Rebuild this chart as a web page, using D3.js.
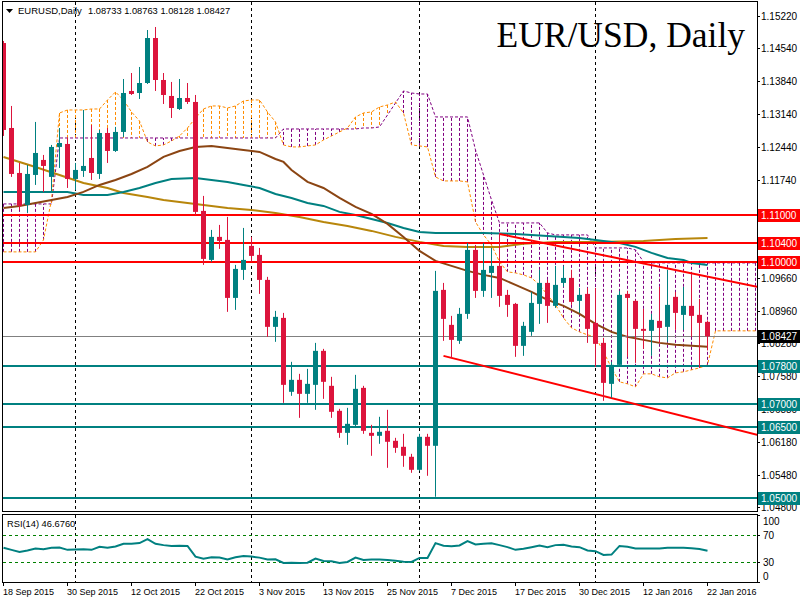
<!DOCTYPE html>
<html><head><meta charset="utf-8">
<script src="https://cdn.jsdelivr.net/npm/d3@7"></script>
<style>body{margin:0;background:#fff;} svg{display:block;}</style>
</head><body><svg id="c" width="800" height="600"></svg>
<script>
const headerSymbol = "EURUSD,Daily";
const headerOHLC = "1.08733 1.08763 1.08128 1.08427";
const chartTitle = "EUR/USD, Daily";
const rsiLabel = "RSI(14) 46.6760";

const opens = [1.14647,1.12845,1.11891,1.11213,1.11849,1.12167,1.11807,1.12443,1.12506,1.11764,
1.11934,1.12209,1.11870,1.12739,1.12358,1.12761,1.13630,1.13587,1.13799,1.14753,
1.13863,1.13524,1.13248,1.13481,1.13397,1.11086,1.10047,1.10535,1.10471,1.09241,
1.09835,1.10344,1.10153,1.09623,1.08627,1.08817,1.07249,1.07503,1.07206,1.07397,
1.08118,1.07376,1.06846,1.06379,1.06549,1.07333,1.06379,1.06316,1.06422,1.06210,
1.06083,1.05871,1.05595,1.06295,1.06104,1.09411,1.08669,1.08330,1.08902,1.10259,
1.09390,1.09771,1.09920,1.09305,1.09114,1.08224,1.08521,1.09114,1.09559,1.09072,
1.09559,1.09665,1.09178,1.09326,1.08711,1.08287,1.07418,1.07821,1.09326,1.09178,
1.08584,1.08542,1.08754,1.08627,1.09263,1.08881,1.09072,1.08881,1.08733];
const highs = [1.14690,1.13312,1.12103,1.12061,1.12973,1.12273,1.12485,1.12845,1.12633,1.12103,
1.13227,1.12909,1.12803,1.12845,1.12867,1.13884,1.14011,1.14139,1.14923,1.14987,
1.14011,1.13821,1.13884,1.13799,1.13545,1.11404,1.10683,1.10789,1.10959,1.09941,
1.10725,1.10535,1.10301,1.09687,1.08966,1.08923,1.07885,1.07630,1.07736,1.08287,
1.08160,1.07567,1.06888,1.06909,1.07609,1.07376,1.06549,1.06719,1.06867,1.06273,
1.06358,1.05934,1.06358,1.06358,1.09814,1.09559,1.08860,1.09029,1.10407,1.10365,
1.10407,1.10301,1.10619,1.09411,1.09135,1.08733,1.09369,1.09835,1.09623,1.09920,
1.09920,1.09835,1.09453,1.09453,1.09453,1.08393,1.07885,1.09390,1.09390,1.09199,
1.09008,1.08902,1.09475,1.09835,1.09369,1.09475,1.09729,1.09220,1.08763];
const lows = [1.12676,1.11807,1.11107,1.11043,1.11637,1.11489,1.11489,1.11997,1.11573,1.11531,
1.11807,1.11743,1.11764,1.12103,1.12337,1.12655,1.13545,1.13460,1.13778,1.13630,
1.13354,1.13057,1.13227,1.13354,1.11001,1.09941,1.10005,1.10280,1.08945,1.08987,
1.09623,1.10005,1.09326,1.08415,1.08309,1.07015,1.07164,1.06697,1.07015,1.06867,
1.07100,1.06697,1.06273,1.06125,1.06507,1.06358,1.05892,1.06146,1.05637,1.05955,
1.05659,1.05531,1.05574,1.05468,1.05023,1.08330,1.07969,1.08266,1.08796,1.09241,
1.09263,1.09241,1.09051,1.08839,1.07991,1.08012,1.08436,1.08690,1.08711,1.09029,
1.09475,1.09093,1.08923,1.08287,1.07779,1.07058,1.07121,1.07779,1.07991,1.07863,
1.08160,1.08012,1.08287,1.08309,1.08563,1.08563,1.08415,1.07757,1.08128];
const closes = [1.12803,1.11870,1.11192,1.11870,1.12315,1.12040,1.12443,1.12527,1.11764,1.11955,
1.12040,1.11891,1.12739,1.12358,1.12761,1.13587,1.13566,1.13799,1.14753,1.13863,
1.13545,1.13269,1.13481,1.13397,1.11065,1.10068,1.10535,1.10450,1.09241,1.09856,
1.10047,1.10132,1.09623,1.08627,1.08839,1.07397,1.07503,1.07206,1.07418,1.08118,
1.07461,1.06825,1.06379,1.06570,1.07312,1.06422,1.06316,1.06401,1.06189,1.06061,
1.05892,1.05595,1.06295,1.06104,1.09390,1.08796,1.08351,1.08902,1.10259,1.09390,
1.09835,1.09920,1.09284,1.09093,1.08224,1.08648,1.09135,1.09559,1.09072,1.09517,
1.09665,1.09157,1.09305,1.08584,1.08266,1.07439,1.07821,1.09305,1.09241,1.08584,
1.08542,1.08775,1.08605,1.09093,1.08923,1.09072,1.08860,1.08711,1.08427];

const rsiValues = [51,48,45,47,50,49,51,51.5,48,48.5,
49,48,52.5,51,53,57,57,58,64,57,
55,53.8,54,53.8,38,35,37,36.5,33.6,37,
39,38,36.5,33.6,34,28.6,29,28.6,29,35,
31.6,31,28.6,30,36.5,33,33.6,33.6,33,32,
30.5,30,36,36,58,54,53.5,54.5,61,56,
57,57.8,55,52,48,49.5,52,54.3,52,55,
55.5,53,52,47,46,40.5,41,53.8,52.5,50,
50,50,50,51,51,51,50.5,49.4,46.68];

// moving averages read at bar positions: [barIndex, price]
const maBrown = [[0,1.11149],[2,1.11192],[4,1.11255],[6,1.11319],[8,1.11383],[10,1.11489],[12,1.11637],[14,1.11743],[16,1.11870],[18,1.12019],[20,1.12231],[22,1.12358],[24,1.12443],[26,1.12464],[28,1.12421],[30,1.12379],[32,1.12337],[34,1.12188],[35,1.12125],[36,1.11955],[38,1.11701],[40,1.11573],[42,1.11361],[44,1.11171],[46,1.11023],[48,1.10810],[50,1.10535],[52,1.10238],[54,1.10026],[56,1.09920],[58,1.09814],[60,1.09729],[62,1.09665],[64,1.09517],[66,1.09369],[68,1.09199],[70,1.09072],[72,1.08902],[74,1.08690],[76,1.08521],[78,1.08415],[80,1.08351],[82,1.08287],[84,1.08245],[86,1.08224],[88,1.08203]];
const maTeal = [[0,1.11489],[8,1.11489],[10,1.11425],[13,1.11425],[15,1.11489],[17,1.11573],[19,1.11679],[21,1.11764],[24,1.11785],[26,1.11743],[28,1.11701],[30,1.11637],[32,1.11573],[34,1.11446],[36,1.11361],[38,1.11255],[40,1.11192],[42,1.11065],[44,1.11001],[46,1.10916],[48,1.10831],[50,1.10725],[52,1.10640],[54,1.10619],[60,1.10619],[64,1.10598],[68,1.10556],[72,1.10513],[75,1.10450],[77,1.10407],[79,1.10323],[81,1.10195],[83,1.10089],[85,1.10047],[86,1.09983],[88,1.09941]];
const maGold = [[0,1.12231],[4,1.12019],[7,1.11849],[10,1.11679],[13,1.11573],[15,1.11467],[18,1.11383],[20,1.11319],[22,1.11277],[25,1.11213],[28,1.11149],[31,1.11107],[34,1.11043],[37,1.10959],[40,1.10853],[43,1.10768],[46,1.10662],[49,1.10535],[52,1.10429],[55,1.10344],[58,1.10323],[62,1.10323],[65,1.10387],[69,1.10429],[74,1.10429],[80,1.10450],[84,1.10492],[88,1.10513]];

// Ichimoku cloud (bars 0..94)
const senkouA = [1.10217,1.10217,1.10217,1.10217,1.10217,1.10471,1.11319,1.13163,1.13227,1.13227,
1.13227,1.13248,1.13248,1.13439,1.13609,1.13439,1.13185,1.12994,1.12549,1.12464,
1.12485,1.12570,1.12676,1.12845,1.13057,1.13248,1.13312,1.13312,1.13269,1.13312,
1.13418,1.13439,1.13439,1.13185,1.12973,1.12485,1.12443,1.12443,1.12464,1.12485,
1.12591,1.12676,1.12761,1.12845,1.13079,1.13163,1.13185,1.13291,1.13333,1.13397,
1.13163,1.12485,1.12464,1.12443,1.11807,1.11722,1.11722,1.11722,1.11701,1.10853,
1.10577,1.10365,1.10005,1.09793,1.09771,1.09729,1.09665,1.09517,1.09305,1.09093,
1.08817,1.08605,1.08521,1.08457,1.08415,1.08097,1.07757,1.07461,1.07418,1.07355,
1.07630,1.07630,1.07567,1.07545,1.07651,1.07673,1.07715,1.07757,1.07821,1.08542,
1.08542,1.08542,1.08542,1.08542,1.08542];
const senkouB = [1.11234,1.11234,1.11234,1.11234,1.11234,1.11234,1.11234,1.12633,1.12633,1.12633,
1.12633,1.12633,1.12633,1.12633,1.12633,1.12633,1.12633,1.12633,1.12633,1.12633,
1.12633,1.12633,1.12633,1.12633,1.12633,1.12633,1.12633,1.12633,1.12633,1.12633,
1.12633,1.12633,1.12633,1.12633,1.12633,1.12824,1.12824,1.12824,1.12824,1.12824,
1.12824,1.12824,1.12824,1.12824,1.12824,1.12845,1.12845,1.12867,1.13121,1.13375,
1.13630,1.13587,1.13566,1.13566,1.13079,1.13079,1.13079,1.13079,1.13079,1.12379,
1.11849,1.11319,1.10831,1.10831,1.10831,1.10831,1.10831,1.10831,1.10619,1.10577,
1.10577,1.10577,1.10577,1.10577,1.10301,1.10301,1.10301,1.10301,1.10301,1.10259,
1.10005,1.09983,1.09983,1.09983,1.09983,1.09983,1.09983,1.09983,1.09983,1.09983,
1.09983,1.09983,1.09983,1.09983,1.09983];

const resistanceLevels = [1.11000, 1.10400, 1.10000];
const supportLevels = [1.07800, 1.07000, 1.06500, 1.05000];
const bidPrice = 1.08427;
const trendUpper = [[62, 1.10598], [94.2, 1.09475]];
const trendLower = [[55, 1.08012], [94.2, 1.06337]];

const priceTicks = [1.15220,1.14540,1.13840,1.13140,1.12440,1.11740,1.11040,1.10340,1.09660,1.08960,1.08280,1.07580,1.06880,1.06180,1.05480,1.04800];
const rsiTicks = [100, 70, 30, 0];
const rsiLevels = [70, 30];
const dateLabels = ["18 Sep 2015","30 Sep 2015","12 Oct 2015","22 Oct 2015","3 Nov 2015","13 Nov 2015","25 Nov 2015","7 Dec 2015","17 Dec 2015","30 Dec 2015","12 Jan 2016","22 Jan 2016"];
const dateLabelBars = [0,8,16,24,32,40,48,56,64,72,80,88];
const monthStartBars = [9,31,52,74];

// ---------- drawing ----------
const C = {bull:"#008080", bear:"#dc143c", red:"#ff0000", teal:"#008080", brown:"#8b4513", gold:"#b8860b", spanA:"#ff8c00", spanB:"#800080", grid:"#000", lvl:"#008000"};
const svg = d3.select("#c");
svg.append("rect").attr("width",800).attr("height",600).attr("fill","#fff");

const x = d3.scaleLinear().domain([0, 94.25]).range([3.5, 757.5]);
const y = d3.scaleLinear().domain([1.04700, 1.15517]).range([512, 2]);
const yr = d3.scaleLinear().domain([0, 100]).range([582.25, 514.75]);

const defs = svg.append("defs");
defs.append("clipPath").attr("id","cm").append("rect").attr("x",3).attr("y",2).attr("width",754).attr("height",510);
defs.append("clipPath").attr("id","cr").append("rect").attr("x",3).attr("y",515).attr("width",754).attr("height",67);

const main = svg.append("g").attr("clip-path","url(#cm)");
const rsiG = svg.append("g").attr("clip-path","url(#cr)");

// grid
monthStartBars.forEach(b => {
  main.append("line").attr("x1",x(b)).attr("x2",x(b)).attr("y1",2).attr("y2",512)
    .attr("stroke",C.grid).attr("stroke-dasharray","3,3");
  rsiG.append("line").attr("x1",x(b)).attr("x2",x(b)).attr("y1",515).attr("y2",582)
    .attr("stroke",C.grid).attr("stroke-dasharray","3,3");
});

// cloud hatches
const cloudIdx = d3.range(senkouA.length);
main.append("g").selectAll("line").data(cloudIdx).join("line")
  .attr("x1", i => x(i)).attr("x2", i => x(i))
  .attr("y1", i => y(senkouA[i])).attr("y2", i => y(senkouB[i]))
  .attr("stroke", i => senkouA[i] >= senkouB[i] ? C.spanA : C.spanB)
  .attr("stroke-dasharray","3,2").attr("stroke-width",1);

const lineIdx = d3.line().x((d,i) => x(i)).y(d => y(d));
main.append("path").attr("d", lineIdx(senkouB)).attr("fill","none").attr("stroke",C.spanB).attr("stroke-dasharray","3,2");
main.append("path").attr("d", lineIdx(senkouA)).attr("fill","none").attr("stroke",C.spanA).attr("stroke-dasharray","3,2");

// moving averages
const linePairs = d3.line().x(d => x(d[0])).y(d => y(d[1]));
[[maGold, C.gold],[maTeal, C.teal],[maBrown, C.brown]].forEach(([data, col]) => {
  main.append("path").attr("d", linePairs(data)).attr("fill","none").attr("stroke",col).attr("stroke-width",2);
});

// horizontal levels
const hline = (p, col, w) => main.append("line").attr("x1",3).attr("x2",757)
  .attr("y1", Math.round(y(p)) + (w % 2 ? 0.5 : 0)).attr("y2", Math.round(y(p)) + (w % 2 ? 0.5 : 0))
  .attr("stroke",col).attr("stroke-width",w);
hline(bidPrice, "#808080", 1);
resistanceLevels.forEach(p => hline(p, C.red, 2));
supportLevels.forEach(p => hline(p, C.teal, 2));

// trendlines
[trendUpper, trendLower].forEach(t => {
  main.append("path").attr("d", linePairs(t)).attr("fill","none").attr("stroke",C.red).attr("stroke-width",2);
});

// candles
const bars = d3.range(opens.length);
const cg = main.append("g");
cg.selectAll("line").data(bars).join("line")
  .attr("x1", i => x(i)).attr("x2", i => x(i))
  .attr("y1", i => y(highs[i])).attr("y2", i => y(lows[i]))
  .attr("stroke", i => closes[i] >= opens[i] ? C.bull : C.bear).attr("stroke-width",1);
cg.selectAll("rect").data(bars).join("rect")
  .attr("x", i => x(i) - 2.5).attr("width", 5)
  .attr("y", i => Math.min(y(opens[i]), y(closes[i])))
  .attr("height", i => Math.max(1, Math.abs(y(opens[i]) - y(closes[i]))))
  .attr("fill", i => closes[i] >= opens[i] ? C.bull : C.bear);

// RSI
rsiLevels.forEach(v => rsiG.append("line").attr("x1",3).attr("x2",757)
  .attr("y1", Math.round(yr(v))+0.5).attr("y2", Math.round(yr(v))+0.5)
  .attr("stroke", C.lvl).attr("stroke-dasharray","3,3"));
rsiG.append("path").attr("d", d3.line().x((d,i)=>x(i)).y(d=>yr(d))(rsiValues))
  .attr("fill","none").attr("stroke",C.teal).attr("stroke-width",2);

// frames
svg.append("rect").attr("x",2.5).attr("y",1.5).attr("width",755).attr("height",510).attr("fill","none").attr("stroke","#000");
svg.append("rect").attr("x",2.5).attr("y",514.5).attr("width",755).attr("height",68).attr("fill","none").attr("stroke","#000");

const font = "'Liberation Sans', Arial, sans-serif";
// price axis
const pa = svg.append("g").attr("font-family",font).attr("font-size","10px");
priceTicks.forEach(p => {
  const yy = Math.round(y(p)) + 0.5;
  pa.append("line").attr("x1",757.5).attr("x2",760).attr("y1",yy).attr("y2",yy).attr("stroke","#000");
  pa.append("text").attr("x",761).attr("y",y(p)).attr("dominant-baseline","central").text(p.toFixed(5));
});
const box = (p, col) => {
  const yy = Math.round(y(p));
  pa.append("rect").attr("x",758).attr("y",yy-6).attr("width",42).attr("height",13).attr("fill",col);
  pa.append("text").attr("x",761).attr("y",yy+0.5).attr("dominant-baseline","central").attr("fill","#fff").text(p.toFixed(5));
};
resistanceLevels.forEach(p => box(p, C.red));
supportLevels.forEach(p => box(p, C.teal));
box(bidPrice, "#000");

// RSI axis
rsiTicks.forEach(v => {
  const yy = Math.round(yr(v)) + 0.5;
  pa.append("line").attr("x1",757.5).attr("x2",760).attr("y1",yy).attr("y2",yy).attr("stroke","#000");
  pa.append("text").attr("x",763).attr("y", Math.min(Math.max(yr(v), 521), 576)).attr("dominant-baseline","central").text(v);
});

// date axis
const da = svg.append("g").attr("font-family",font).attr("font-size","9px");
dateLabelBars.forEach((b, k) => {
  da.append("line").attr("x1",x(b)).attr("x2",x(b)).attr("y1",583).attr("y2",586).attr("stroke","#000");
  da.append("text").attr("x", x(b) - 0.5).attr("y", 595).text(dateLabels[k]);
});

// header texts
svg.append("path").attr("d","M6,9L13,9L9.5,13Z").attr("fill","#000");
svg.append("text").attr("x",18).attr("y",14).attr("font-family",font).attr("font-size","9.5px").text(headerSymbol);
svg.append("text").attr("x",88).attr("y",14).attr("font-family",font).attr("font-size","9.3px").text(headerOHLC);
svg.append("text").attr("x",7).attr("y",527).attr("font-family",font).attr("font-size","9.3px").text(rsiLabel);
svg.append("text").attr("x",745).attr("y",47).attr("text-anchor","end")
  .attr("font-family","'Liberation Serif', 'Times New Roman', serif").attr("font-size","35.5px").text(chartTitle);
</script>
</body></html>
